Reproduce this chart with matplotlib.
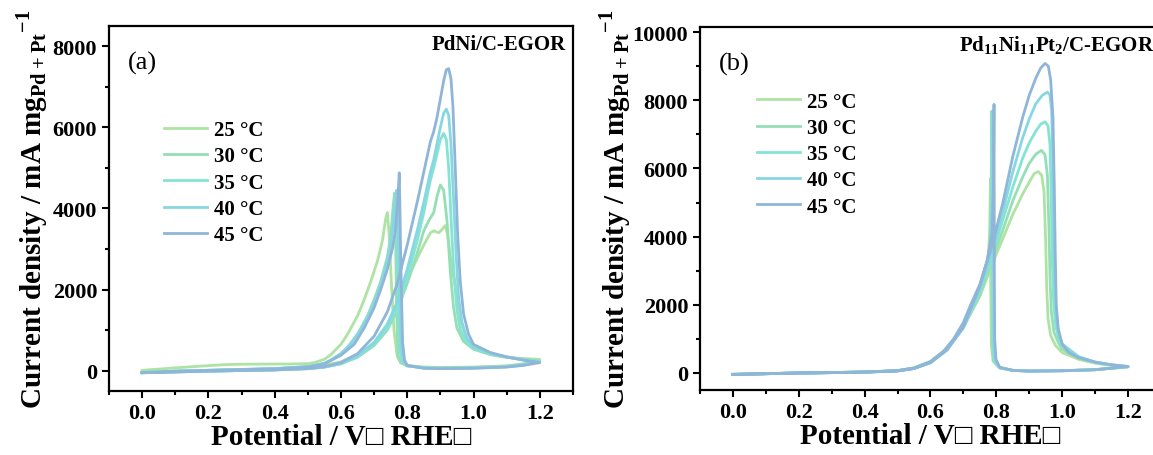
import numpy as np
import matplotlib
matplotlib.use("Agg")
import matplotlib.pyplot as plt
from matplotlib.ticker import MultipleLocator

plt.rcParams['font.family'] = ['Liberation Serif', 'DejaVu Sans']
plt.rcParams['font.weight'] = 'bold'
plt.rcParams['mathtext.fontset'] = 'custom'
plt.rcParams['mathtext.rm'] = 'Liberation Serif'
plt.rcParams['mathtext.bf'] = 'Liberation Serif:bold'

temps = ['25 °C', '30 °C', '35 °C', '40 °C', '45 °C']
colors = ['#aee3a4', '#95dfb5', '#85e3d3', '#87d7e3', '#8fb6d8']

# ---- panel (a): PdNi/C, (E [V], j [mA mg-1]) ----
a25_fwd = [(0.00, -40), (0.10, -20), (0.20, 0), (0.30, 15), (0.40, 35), (0.50, 80), (0.55, 130),
           (0.60, 220), (0.65, 400), (0.70, 680), (0.73, 980), (0.76, 1450), (0.79, 2050),
           (0.82, 2600), (0.85, 3100), (0.87, 3400), (0.88, 3450), (0.895, 3400), (0.905, 3480),
           (0.915, 3580), (0.922, 3350), (0.93, 2800), (0.94, 2300), (0.95, 1900), (0.96, 1300),
           (0.97, 950), (0.99, 640), (1.02, 480), (1.06, 380), (1.10, 330), (1.15, 300), (1.20, 280)]
a25_rev = [(1.20, 280), (1.15, 170), (1.10, 120), (1.00, 90), (0.90, 80), (0.85, 90), (0.80, 130),
           (0.78, 200), (0.77, 350), (0.76, 1000), (0.752, 2200), (0.745, 3400), (0.74, 3900),
           (0.735, 3750), (0.725, 3200), (0.71, 2700), (0.69, 2200), (0.67, 1750), (0.65, 1350),
           (0.62, 900), (0.60, 650), (0.57, 400), (0.55, 280), (0.52, 200), (0.50, 175), (0.45, 165),
           (0.40, 165), (0.30, 160), (0.25, 150), (0.20, 125), (0.10, 70), (0.00, 10)]
a30_fwd = [(0.00, -50), (0.10, -30), (0.20, -10), (0.30, 5), (0.40, 20), (0.50, 50), (0.55, 90),
           (0.60, 170), (0.65, 330), (0.70, 620), (0.74, 1000), (0.77, 1500), (0.80, 2150),
           (0.83, 2900), (0.85, 3450), (0.865, 3700), (0.88, 3900), (0.89, 4300), (0.90, 4580),
           (0.91, 4450), (0.92, 3700), (0.93, 2450), (0.94, 1550), (0.95, 1050), (0.97, 720),
           (1.00, 530), (1.05, 400), (1.10, 330), (1.15, 280), (1.20, 240)]
a30_rev = [(1.20, 240), (1.15, 160), (1.10, 110), (1.00, 80), (0.90, 70), (0.85, 80), (0.80, 120),
           (0.78, 200), (0.772, 400), (0.768, 1500), (0.765, 3200), (0.762, 4380), (0.758, 4100),
           (0.75, 3300), (0.74, 2800), (0.72, 2200), (0.70, 1750), (0.68, 1350), (0.65, 900),
           (0.62, 580), (0.60, 420), (0.57, 260), (0.55, 180), (0.50, 100), (0.40, 50), (0.30, 30),
           (0.20, 10), (0.10, -10), (0.00, -40)]
a35_fwd = [(0.00, -50), (0.10, -30), (0.20, -10), (0.30, 5), (0.40, 20), (0.50, 50), (0.55, 90),
           (0.60, 170), (0.65, 340), (0.70, 650), (0.74, 1050), (0.77, 1550), (0.80, 2300),
           (0.83, 3200), (0.85, 3900), (0.87, 4700), (0.88, 5000), (0.89, 5350), (0.90, 5700),
           (0.91, 5850), (0.918, 5700), (0.925, 5000), (0.932, 3800), (0.94, 2500), (0.95, 1500),
           (0.96, 1000), (0.98, 700), (1.00, 560), (1.05, 420), (1.10, 340), (1.15, 280), (1.20, 230)]
a35_rev = [(1.20, 230), (1.15, 150), (1.10, 100), (1.00, 70), (0.90, 60), (0.85, 70), (0.80, 120),
           (0.785, 220), (0.778, 500), (0.773, 2000), (0.769, 3400), (0.765, 4200), (0.76, 4000),
           (0.755, 3500), (0.745, 2900), (0.73, 2350), (0.71, 1850), (0.69, 1450), (0.66, 1000),
           (0.63, 650), (0.60, 420), (0.57, 260), (0.55, 180), (0.50, 100), (0.40, 50), (0.30, 30),
           (0.20, 10), (0.10, -10), (0.00, -40)]
a40_fwd = [(0.00, -50), (0.10, -30), (0.20, -10), (0.30, 5), (0.40, 20), (0.50, 50), (0.55, 90),
           (0.60, 180), (0.65, 360), (0.70, 700), (0.74, 1150), (0.77, 1700), (0.80, 2500),
           (0.83, 3450), (0.85, 4150), (0.87, 4900), (0.88, 5200), (0.89, 5600), (0.90, 6000),
           (0.91, 6350), (0.918, 6450), (0.925, 6300), (0.932, 5600), (0.94, 4200), (0.948, 2800),
           (0.955, 1800), (0.965, 1200), (0.98, 800), (1.00, 600), (1.05, 430), (1.10, 340),
           (1.15, 270), (1.20, 220)]
a40_rev = [(1.20, 220), (1.15, 140), (1.10, 95), (1.00, 65), (0.90, 55), (0.85, 65), (0.80, 120),
           (0.788, 240), (0.781, 600), (0.776, 2200), (0.772, 3700), (0.768, 4450), (0.764, 4200),
           (0.758, 3600), (0.748, 3000), (0.73, 2400), (0.71, 1900), (0.69, 1480), (0.66, 1020),
           (0.63, 660), (0.60, 420), (0.57, 260), (0.55, 180), (0.50, 100), (0.40, 50), (0.30, 30),
           (0.20, 10), (0.10, -10), (0.00, -45)]
a45_fwd = [(0.00, -50), (0.10, -30), (0.20, -10), (0.30, 5), (0.40, 20), (0.50, 55), (0.55, 100),
           (0.60, 200), (0.65, 420), (0.70, 850), (0.74, 1450), (0.77, 2150), (0.80, 3100),
           (0.83, 4150), (0.85, 4900), (0.87, 5650), (0.88, 5900), (0.89, 6250), (0.90, 6700),
           (0.91, 7150), (0.918, 7420), (0.925, 7450), (0.932, 7200), (0.938, 6500), (0.945, 5000),
           (0.952, 3400), (0.96, 2200), (0.97, 1400), (0.985, 900), (1.00, 650), (1.05, 450),
           (1.10, 340), (1.15, 260), (1.20, 200)]
a45_rev = [(1.20, 200), (1.15, 130), (1.10, 90), (1.00, 60), (0.90, 50), (0.85, 60), (0.80, 130),
           (0.792, 260), (0.786, 700), (0.781, 2500), (0.778, 4000), (0.776, 4880), (0.772, 4300),
           (0.765, 3500), (0.755, 3000), (0.74, 2500), (0.72, 2000), (0.70, 1550), (0.67, 1050),
           (0.64, 650), (0.60, 380), (0.55, 170), (0.50, 90), (0.40, 45), (0.30, 25), (0.20, 5),
           (0.10, -15), (0.00, -50)]

# ---- panel (b): Pd11Ni11Pt2/C ----
b25_fwd = [(0.00, -40), (0.10, -20), (0.20, 0), (0.30, 10), (0.40, 25), (0.50, 70), (0.55, 150),
           (0.60, 340), (0.65, 720), (0.70, 1350), (0.75, 2250), (0.79, 3250), (0.82, 3950),
           (0.85, 4650), (0.88, 5250), (0.90, 5600), (0.915, 5850), (0.927, 5910), (0.938, 5800),
           (0.945, 5300), (0.95, 3800), (0.953, 2500), (0.957, 1600), (0.965, 1100), (0.98, 800),
           (1.00, 600), (1.05, 400), (1.10, 290), (1.15, 220), (1.20, 180)]
b25_rev = [(1.20, 180), (1.10, 100), (1.00, 70), (0.90, 60), (0.85, 80), (0.81, 150), (0.79, 350),
           (0.785, 800), (0.783, 2500), (0.782, 5690), (0.780, 4200), (0.775, 3300), (0.76, 2750),
           (0.74, 2250), (0.72, 1800), (0.70, 1400), (0.67, 950), (0.64, 620), (0.60, 330),
           (0.55, 150), (0.50, 70), (0.40, 30), (0.30, 15), (0.20, 0), (0.10, -20), (0.00, -40)]
b30_fwd = [(0.00, -40), (0.10, -20), (0.20, 0), (0.30, 10), (0.40, 25), (0.50, 65), (0.55, 140),
           (0.60, 320), (0.65, 690), (0.70, 1330), (0.75, 2300), (0.79, 3400), (0.82, 4200),
           (0.85, 5050), (0.88, 5750), (0.90, 6150), (0.92, 6420), (0.937, 6530), (0.948, 6400),
           (0.955, 5800), (0.96, 4200), (0.963, 2800), (0.967, 1800), (0.975, 1200), (0.99, 850),
           (1.00, 700), (1.05, 430), (1.10, 300), (1.15, 230), (1.20, 180)]
b30_rev = [(1.20, 180), (1.10, 95), (1.00, 65), (0.90, 55), (0.85, 75), (0.81, 150), (0.792, 350),
           (0.788, 900), (0.787, 3000), (0.786, 7680), (0.784, 5000), (0.78, 3600), (0.765, 2900),
           (0.745, 2350), (0.72, 1850), (0.70, 1420), (0.67, 960), (0.64, 620), (0.60, 320),
           (0.55, 140), (0.50, 65), (0.40, 28), (0.30, 12), (0.20, -2), (0.10, -22), (0.00, -45)]
b35_fwd = [(0.00, -40), (0.10, -20), (0.20, 0), (0.30, 10), (0.40, 25), (0.50, 60), (0.55, 135),
           (0.60, 310), (0.65, 680), (0.70, 1330), (0.75, 2400), (0.79, 3550), (0.82, 4500),
           (0.85, 5450), (0.88, 6300), (0.90, 6750), (0.92, 7100), (0.935, 7300), (0.948, 7370),
           (0.957, 7250), (0.963, 6700), (0.967, 5000), (0.97, 3300), (0.974, 2100), (0.98, 1400),
           (0.99, 1000), (1.00, 780), (1.05, 460), (1.10, 310), (1.15, 235), (1.20, 185)]
b35_rev = [(1.20, 185), (1.10, 95), (1.00, 65), (0.90, 55), (0.85, 75), (0.81, 150), (0.794, 350),
           (0.79, 900), (0.789, 3000), (0.788, 7500), (0.786, 5000), (0.782, 3700), (0.767, 3000),
           (0.745, 2400), (0.72, 1880), (0.70, 1440), (0.67, 970), (0.64, 620), (0.60, 320),
           (0.55, 140), (0.50, 65), (0.40, 28), (0.30, 12), (0.20, -2), (0.10, -22), (0.00, -45)]
b40_fwd = [(0.00, -40), (0.10, -20), (0.20, 0), (0.30, 10), (0.40, 25), (0.50, 60), (0.55, 130),
           (0.60, 300), (0.65, 670), (0.70, 1330), (0.75, 2480), (0.79, 3700), (0.82, 4750),
           (0.85, 5900), (0.88, 6900), (0.90, 7450), (0.92, 7900), (0.94, 8150), (0.955, 8240),
           (0.963, 8150), (0.968, 7700), (0.972, 6000), (0.975, 4000), (0.978, 2500), (0.983, 1600),
           (0.99, 1100), (1.00, 850), (1.05, 480), (1.10, 320), (1.15, 240), (1.20, 190)]
b40_rev = [(1.20, 190), (1.10, 95), (1.00, 65), (0.90, 55), (0.85, 75), (0.81, 160), (0.796, 380),
           (0.792, 900), (0.791, 3000), (0.790, 7700), (0.788, 5200), (0.784, 3900), (0.77, 3150),
           (0.75, 2550), (0.72, 1920), (0.70, 1460), (0.67, 980), (0.64, 630), (0.60, 320),
           (0.55, 140), (0.50, 65), (0.40, 28), (0.30, 12), (0.20, -2), (0.10, -22), (0.00, -45)]
b45_fwd = [(0.00, -40), (0.10, -20), (0.20, 0), (0.30, 10), (0.40, 25), (0.50, 60), (0.55, 130),
           (0.60, 300), (0.65, 680), (0.70, 1350), (0.75, 2550), (0.79, 3850), (0.82, 5000),
           (0.85, 6350), (0.88, 7500), (0.90, 8150), (0.92, 8650), (0.935, 8950), (0.948, 9080),
           (0.958, 9000), (0.965, 8600), (0.972, 7500), (0.976, 5500), (0.979, 3500), (0.982, 2000),
           (0.988, 1300), (1.00, 850), (1.02, 600), (1.05, 450), (1.10, 320), (1.15, 240), (1.20, 190)]
b45_rev = [(1.20, 190), (1.10, 95), (1.00, 65), (0.90, 55), (0.85, 75), (0.81, 170), (0.799, 400),
           (0.795, 1000), (0.794, 3000), (0.793, 7880), (0.791, 5400), (0.787, 4100), (0.772, 3300),
           (0.75, 2600), (0.72, 1950), (0.70, 1480), (0.67, 990), (0.64, 640), (0.60, 330),
           (0.55, 140), (0.50, 65), (0.40, 28), (0.30, 12), (0.20, -2), (0.10, -22), (0.00, -45)]

a_curves = [(a25_fwd, a25_rev), (a30_fwd, a30_rev), (a35_fwd, a35_rev), (a40_fwd, a40_rev), (a45_fwd, a45_rev)]
b_curves = [(b25_fwd, b25_rev), (b30_fwd, b30_rev), (b35_fwd, b35_rev), (b40_fwd, b40_rev), (b45_fwd, b45_rev)]

ylab = r'Current density / mA mg$_{\mathbf{Pd+Pt}}$$^{\mathbf{-1}}$'
xlab = 'Potential / V\u25a1 RHE\u25a1'

fig = plt.figure(figsize=(11.53, 4.56), dpi=100)
ax_a = fig.add_axes([0.0945, 0.1404, 0.4024, 0.8004])
ax_b = fig.add_axes([0.6071, 0.1425, 0.3998, 0.7961])


def draw_panel(ax, curves, ymax, tag, title, leg_xy, ylpad):
    for (fwd, rev), c, lab in zip(curves, colors, temps):
        pts = np.array(fwd + rev)
        ax.plot(pts[:, 0], pts[:, 1], color=c, lw=2.0, label=lab, solid_joinstyle='round')
    ax.set_xlim(-0.1, 1.3)
    ax.set_ylim(-500, ymax)
    ax.set_xticks([0.0, 0.2, 0.4, 0.6, 0.8, 1.0, 1.2])
    ax.xaxis.set_minor_locator(MultipleLocator(0.1))
    ax.yaxis.set_major_locator(MultipleLocator(2000))
    ax.yaxis.set_minor_locator(MultipleLocator(1000))
    ax.tick_params(which='both', direction='out', width=1.5, labelsize=16, top=False, right=False)
    ax.tick_params(which='major', length=5)
    ax.tick_params(which='minor', length=3)
    for lbl in ax.get_xticklabels() + ax.get_yticklabels():
        lbl.set_fontweight('bold')
    for s in ax.spines.values():
        s.set_linewidth(1.6)
    ax.set_xlabel(xlab, fontsize=21, fontweight='bold', labelpad=0)
    ax.set_ylabel(ylab, fontsize=21, fontweight='bold', labelpad=ylpad)
    ax.text(0.04, 0.9, tag, transform=ax.transAxes, fontsize=19, fontweight='normal',
            ha='left', va='center')
    ax.text(0.985, 0.95, title, transform=ax.transAxes, fontsize=15, fontweight='bold',
            ha='right', va='center')
    ax.legend(loc='upper left', bbox_to_anchor=leg_xy, frameon=False,
              handlelength=2.1, handletextpad=0.3, labelspacing=0.3, borderaxespad=0,
              prop={'weight': 'bold', 'size': 15})


draw_panel(ax_a, a_curves, 8500, '(a)', 'PdNi/C-EGOR', (0.1, 0.765), 2)
draw_panel(ax_b, b_curves, 10150, '(b)',
           r'Pd$_{\mathbf{11}}$Ni$_{\mathbf{11}}$Pt$_{\mathbf{2}}$/C-EGOR', (0.105, 0.845), 0)

fig.savefig('out.png', dpi=100)
